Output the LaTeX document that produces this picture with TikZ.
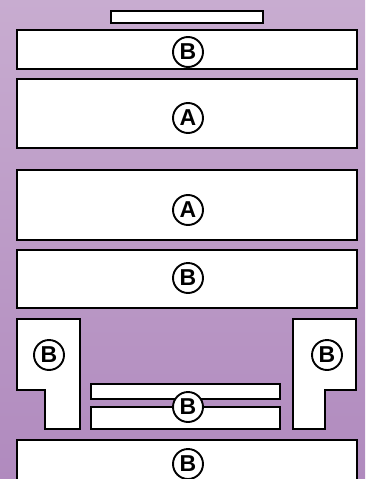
\documentclass[tikz,border=0pt]{standalone}
\usepackage{fontspec}
\setsansfont{Liberation Sans}
\begin{document}
\begin{tikzpicture}[x=1pt,y=-1pt,
  panel/.style={draw=black,fill=white,line width=1.6pt},
  tag/.style={circle,draw=black,fill=white,line width=1.9pt,minimum size=30pt,inner sep=0pt,
    font=\sffamily\bfseries\fontsize{23}{23}\selectfont}]
\shade[top color={rgb,255:red,200;green,172;blue,208},bottom color={rgb,255:red,176;green,138;blue,190}]
  (0,0) rectangle (365,479);
\useasboundingbox (0,0) rectangle (365,479);
% top bar
\draw[panel] (111,11) rectangle (263,23);
% B1
\draw[panel] (17,30) rectangle (357,69);
\node[tag] (b1) at (188,52) {B};
% A1
\draw[panel] (17,79) rectangle (357,148);
\node[tag] (a1) at (188,118) {A};
% A2
\draw[panel] (17,170) rectangle (357,240);
\node[tag] (a2) at (188,210) {A};
% B2
\draw[panel] (17,250) rectangle (357,308);
\node[tag] (b2) at (188,278) {B};
% left L
\draw[panel] (17,319) -- (80,319) -- (80,429) -- (45,429) -- (45,390) -- (17,390) -- cycle;
\node[tag] (bl) at (49,355) {B};
% right L
\draw[panel] (293,319) -- (356,319) -- (356,390) -- (325,390) -- (325,429) -- (293,429) -- cycle;
\node[tag] (br) at (327,355) {B};
% middle bars
\draw[panel] (91,384) rectangle (280,399);
\draw[panel] (91,407) rectangle (280,429);
\node[tag] (bm) at (188,407) {B};
% bottom
\draw[panel] (17,440) rectangle (357,485);
\node[tag] (bb) at (188,464) {B};
\end{tikzpicture}
\end{document}
